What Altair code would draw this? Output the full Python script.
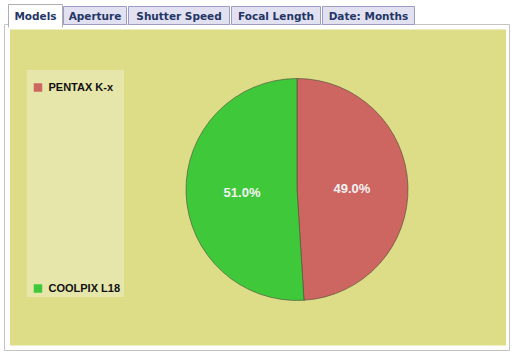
import altair as alt
import pandas as pd

# ---- data ----
MODELS = ["PENTAX K-x", "COOLPIX L18"]
SHARES = [49.0, 51.0]
SLICE_COLORS = ["#CD6661", "#3FC93A"]
TAB_LABELS = ["Models", "Aperture", "Shutter Speed", "Focal Length", "Date: Months"]

# ---- layout (decoration geometry, not data) ----
W, H = 512, 357
TAB_LEFT = [8.5, 63.5, 128.5, 231.5, 322.5]
TAB_RIGHT = [62.5, 126.5, 229.5, 320.5, 414.5]
CX, CY, R = 297, 189.5, 111

pie_df = pd.DataFrame({"model": MODELS, "share": SHARES, "idx": list(range(len(MODELS)))})

tabs_df = pd.DataFrame({"tab": TAB_LABELS, "x1": TAB_LEFT, "x2": TAB_RIGHT})
tabs_df["xc"] = (tabs_df["x1"] + tabs_df["x2"]) / 2
tabs_df["ty"] = 19.5
sel_df = tabs_df.iloc[:1].copy()
sel_df["y1"] = 4.5
sel_df["y2"] = 27.0
uns_df = tabs_df.iloc[1:].copy()
uns_df["y1"] = 6.5
uns_df["y2"] = 24.5

xs = alt.Scale(domain=[0, W], range=[0, W])
ys = alt.Scale(domain=[0, H], range=[0, H])


def rect_layer(df, **mark):
    return alt.Chart(df).mark_rect(**mark).encode(
        x=alt.X("x1:Q", scale=xs, axis=None),
        x2="x2:Q",
        y=alt.Y("y1:Q", scale=ys, axis=None),
        y2="y2:Q",
    )


def box(x1, x2, y1, y2, **mark):
    return rect_layer(pd.DataFrame({"x1": [x1], "x2": [x2], "y1": [y1], "y2": [y2]}), **mark)


panel = box(4.5, 509.5, 24.5, 350.5, fill="white", stroke="#C4C4C4", strokeWidth=1)
tabs_unsel = rect_layer(uns_df, fill="#E1E1F1", stroke="#9C9CC2", strokeWidth=1)
tab_sel = rect_layer(sel_df, fill="white", stroke="#AFAFAF", strokeWidth=1)
tab_patch = box(9, 62, 24, 28.5, fill="white")

tab_text = alt.Chart(tabs_df).mark_text(
    font="DejaVu Sans", fontWeight="bold", fontSize=10.5, color="#243566",
    baseline="alphabetic", align="center"
).encode(
    x=alt.X("xc:Q", scale=xs, axis=None),
    y=alt.Y("ty:Q", scale=ys, axis=None),
    text="tab:N",
)

khaki = box(10, 506, 29.5, 345.5, fill="#DDDD88")
legend_box = box(27, 124, 70, 297, fill="#E6E6AA")

color = alt.Color(
    "model:N",
    scale=alt.Scale(domain=MODELS, range=SLICE_COLORS),
    legend=alt.Legend(
        title=None, orient="none", legendX=32.5, legendY=82,
        padding=0,
        symbolType="square", symbolSize=72, symbolStrokeWidth=0,
        labelFont="Liberation Sans", labelFontWeight="bold", labelFontSize=11,
        labelColor="#111111", labelOffset=5, rowPadding=189,
    ),
)

arcs = alt.Chart(pie_df).mark_arc(
    outerRadius=R, stroke="#4A4A3A", strokeWidth=0.6
).encode(
    theta=alt.Theta("share:Q", stack=True),
    color=color,
    order=alt.Order("idx:Q"),
    x=alt.value(CX), y=alt.value(CY),
)

labels = alt.Chart(pie_df).transform_calculate(
    lbl="format(datum.share, '.1f') + '%'"
).mark_text(
    radius=55, font="Liberation Sans", fontWeight="bold", fontSize=13,
    color="#F4F2F4", align="center", baseline="middle"
).encode(
    theta=alt.Theta("share:Q", stack=True),
    order=alt.Order("idx:Q"),
    text="lbl:N",
    x=alt.value(CX), y=alt.value(CY + 1.5),
)

chart = alt.layer(
    panel, tabs_unsel, tab_sel, tab_patch, tab_text, khaki, legend_box, arcs, labels
).properties(
    width=W, height=H, padding=0, background="white",
    autosize=alt.AutoSizeParams(type="none"),
).configure_view(stroke=None)

chart.save("out.html", embed_options={"renderer": "svg", "actions": False})
